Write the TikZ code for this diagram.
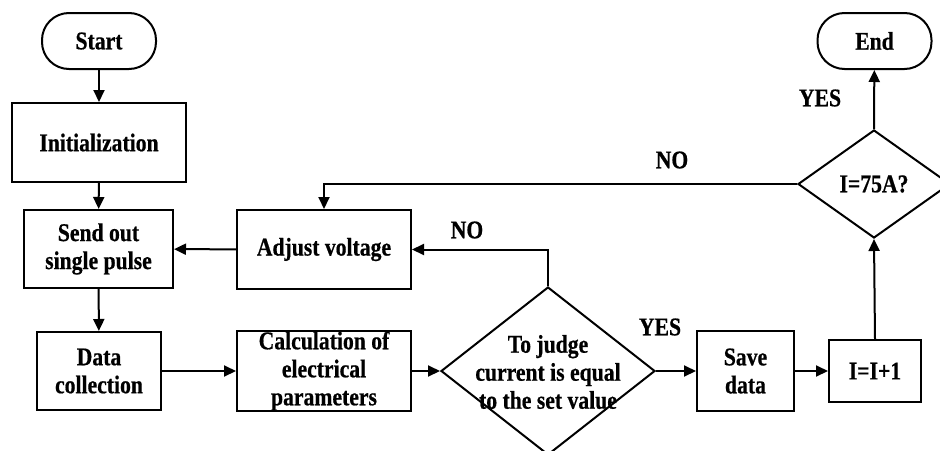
\documentclass[tikz,border=0pt]{standalone}
\usepackage{fontspec}
\setmainfont[FakeStretch=0.85,FakeBold=0.6]{Liberation Serif}
\usetikzlibrary{arrows.meta,shapes.geometric,calc}
\begin{document}
\begin{tikzpicture}[x=1pt,y=-1pt,
  every node/.style={font=\bfseries\fontsize{25.5}{28}\selectfont, align=center, inner sep=0pt},
  box/.style={draw, line width=2pt, rectangle},
  term/.style={draw, line width=2pt, rectangle, rounded corners=27pt, minimum width=114pt, minimum height=56pt},
  dia/.style={draw, line width=2pt, diamond},
  lbl/.style={},
  conn/.style={line width=2pt, -{Triangle[length=12pt,width=11pt]}}
]
\useasboundingbox (0,0) rectangle (940,450);
% nodes
\node[term] (start) at (99,41) {Start};
\node[box, minimum width=174pt, minimum height=79pt] (init) at (99,142.5) {Initialization};
\node[box, minimum width=149pt, minimum height=78pt] (send) at (98.5,249) {Send out\\single pulse};
\node[box, minimum width=124pt, minimum height=78pt] (data) at (99,371) {Data\\collection};
\node[box, minimum width=174pt, minimum height=78pt] (calc) at (324,371) {Calculation of\\electrical\\parameters};
\node[dia, minimum width=214pt, minimum height=168pt] (judge) at (548,371) {};
\node (judgetext) at (548,372) {To judge\\current is equal\\to the set value};
\node[box, minimum width=97pt, minimum height=80pt] (save) at (745.5,371) {Save\\data};
\node[box, minimum width=92pt, minimum height=62pt] (inc) at (875,371) {I=I+1};
\node[dia, minimum width=152pt, minimum height=108pt] (chk) at (874,184) {};
\node (chktext) at (874,184) {I=75A?};
\node[term] (end) at (874.5,41) {End};
\node[box, minimum width=174pt, minimum height=79pt] (adj) at (324,249.5) {Adjust voltage};
% labels
\node[lbl] (no1) at (467,230) {NO};
\node[lbl] (yes1) at (660,327) {YES};
\node[lbl] (yes2) at (820,98) {YES};
\node[lbl] (no2) at (672,160) {NO};
% connectors
\draw[conn] (start) -- (init);
\draw[conn] (init) -- (send);
\draw[conn] (send) -- (data);
\draw[conn] (data) -- (calc);
\draw[conn] (calc) -- (judge.west);
\draw[conn] (judge.east) -- (save);
\draw[conn] (save) -- (inc);
\draw[conn] (inc.north) -- (chk.south);
\draw[conn] (chk.north) -- (end);
\draw[conn] (chk.west) -| (adj.north);
\draw[conn] (judge.north) |- (adj.east);
\draw[conn] (adj) -- (send);
\end{tikzpicture}
\end{document}
